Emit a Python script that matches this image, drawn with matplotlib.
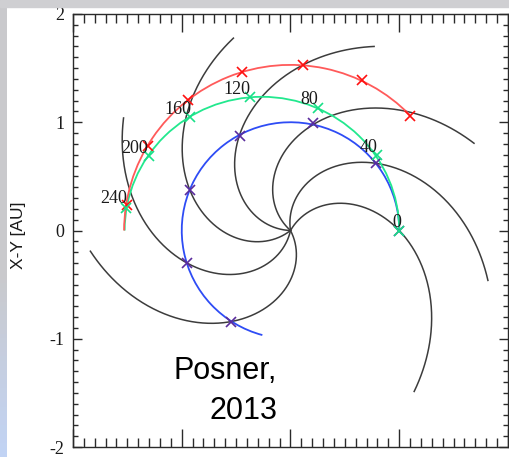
import numpy as np
import matplotlib.pyplot as plt
from matplotlib.patches import Arc
from matplotlib.ticker import MultipleLocator

# days of the markers / labels
days = [0, 40, 80, 120, 160, 200, 240]

# Earth (blue): polar angle [deg], radius [AU]
earth_ang = [0.0, 38.4, 78.0, 117.9, 157.9, 197.4, 237.2]
earth_r = [1.0, 1.0, 1.011, 0.991, 0.997, 1.0, 1.009]

# transfer orbit (green)
trans_ang = [0.0, 41.4, 77.6, 106.8, 131.3, 152.0, 172.1]
trans_r = [1.0, 1.06, 1.16, 1.29, 1.40, 1.473, 1.527]

# Mars (red)
mars_ang = [43.9, 64.7, 85.8, 107.0, 128.1, 149.1, 171.2]
mars_r = [1.526, 1.534, 1.529, 1.534, 1.532, 1.524, 1.524]

# Parker spiral lines through Earth at each day, outer radius [AU]
spiral_rend = [1.872, 1.873, 1.87, 1.866, 1.853, 1.854, 1.85]
spiral_a = 0.95   # AU per radian of winding (~400 km/s wind)

# orbit arcs: (center x, width, height, theta1, theta2)
earth_orbit = (0.0, 2.0, 2.0, 0.0, 255.0)
trans_orbit = (-0.2625, 2.525, 2.47, 0.0, 180.0)
mars_orbit = (0.0, 3.06, 3.06, 44.0, 180.0)

# label positions for the day numbers (data coords)
lab_x = [0.977, 0.715, 0.173, -0.489, -1.032, -1.43, -1.629]
lab_y = [0.072, 0.768, 1.212, 1.304, 1.12, 0.761, 0.292]


def polar_xy(ang, r):
    ang = np.radians(ang)
    return np.array(r) * np.cos(ang), np.array(r) * np.sin(ang)


fig = plt.figure(figsize=(5.1, 4.57), dpi=100, facecolor="white")

# slide background strips
grad = np.ones((100, 1, 3))
t = np.linspace(0, 1, 100)[:, None]
w = np.clip((t - 0.6) / 0.4, 0, 1)
grad[:, 0, :] = (1 - w) * np.array([0.79, 0.79, 0.80]) + w * np.array([0.76, 0.83, 0.96])
bg = fig.add_axes([0, 0, 7 / 510, 1])
bg.imshow(grad, aspect="auto", extent=[0, 1, 0, 1])
bg.axis("off")
fig.patches.append(plt.Rectangle((0, 1 - 7 / 457), 1, 7 / 457, transform=fig.transFigure,
                                 color="#cfcfd2", zorder=0))

ax = fig.add_axes([73 / 510, 10 / 457, 435 / 510, 433 / 457])
ax.set_xlim(-2, 2)
ax.set_ylim(-2, 2)

# spirals
for phi_e, r_end in zip(earth_ang, spiral_rend):
    rr = np.linspace(0, r_end, 300)
    ph = np.radians(phi_e) + (1 - rr) / spiral_a
    ax.plot(rr * np.cos(ph), rr * np.sin(ph), color="#3c3c3c", lw=1.1, zorder=2)

# orbits
for (cx, wd, ht, t1, t2), col in [(earth_orbit, "#2e4cf5"),
                                   (trans_orbit, "#22e88e"),
                                   (mars_orbit, "#ff5a5a")]:
    ax.add_patch(Arc((cx, 0), wd, ht, theta1=t1, theta2=t2, color=col, lw=1.3, zorder=3))

ex, ey = polar_xy(earth_ang, earth_r)
tx, ty = polar_xy(trans_ang, trans_r)
mx, my = polar_xy(mars_ang, mars_r)
ms = 7.5
ax.plot(ex, ey, "x", color="#5a2c9c", ms=ms, mew=1.2, zorder=4)
ax.plot(mx, my, "x", color="#ff1010", ms=ms, mew=1.2, zorder=4)
ax.plot(tx, ty, "x", color="#18e088", ms=ms, mew=1.2, zorder=5)

for d, lx, ly in zip(days, lab_x, lab_y):
    ax.text(lx, ly, str(d), family="Liberation Serif", fontsize=13, color="#1a1a1a",
            ha="center", va="center", zorder=6)

ax.text(-0.124, -1.375, "Posner,", family="Liberation Sans", fontsize=22,
        ha="right", va="baseline", zorder=6)
ax.text(-0.124, -1.742, "2013", family="Liberation Sans", fontsize=22,
        ha="right", va="baseline", zorder=6)

# axes styling
ax.xaxis.set_major_locator(MultipleLocator(1))
ax.xaxis.set_minor_locator(MultipleLocator(0.1))
ax.yaxis.set_major_locator(MultipleLocator(1))
ax.yaxis.set_minor_locator(MultipleLocator(0.1))
ax.tick_params(axis="both", which="both", direction="in", top=True, right=True,
               color="#2a2a2a", width=1.0)
ax.tick_params(axis="x", which="major", length=13, labelbottom=False)
ax.tick_params(axis="x", which="minor", length=6.5)
ax.tick_params(axis="y", which="major", length=6.5, pad=6, labelsize=13, labelcolor="#1a1a1a")
ax.tick_params(axis="y", which="minor", length=3.5)
ax.set_yticks([-2, -1, 0, 1, 2])
ax.set_yticklabels(["-2", "-1", "0", "1", "2"], family="Liberation Serif")
ax.get_yticklabels()[0].set_va("center_baseline")
for sp in ax.spines.values():
    sp.set_color("#2a2a2a")
    sp.set_linewidth(1.0)

fig.text(19 / 510, 1 - 235 / 457, "X-Y [AU]", rotation=90, family="Liberation Sans",
         fontsize=12.5, color="#1a1a1a", ha="center", va="center")

fig.savefig("out.png", dpi=100, facecolor="white")
